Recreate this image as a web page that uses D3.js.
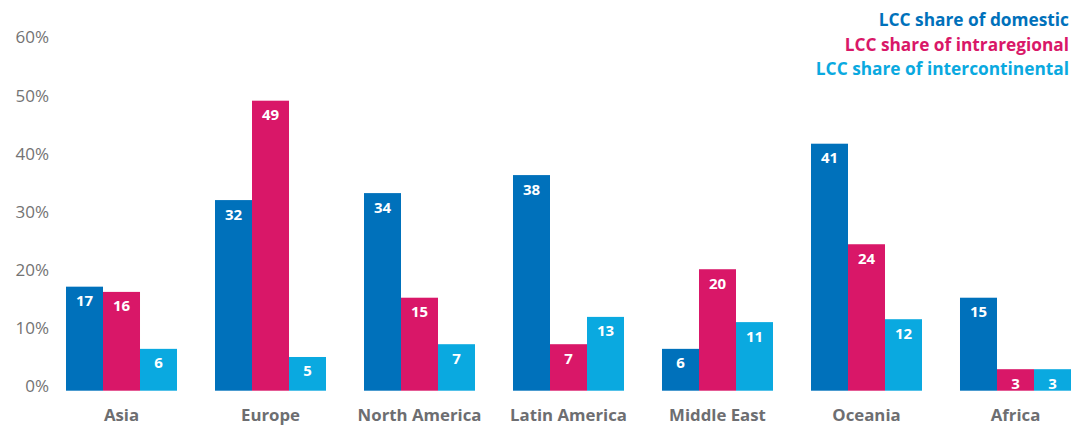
<!DOCTYPE html>
<html>
<head>
<meta charset="utf-8">
<script src="https://cdn.jsdelivr.net/npm/d3@7"></script>
<style>
	body { margin: 0; background: #fff; }
	svg { display: block; font-family: "Open Sans", sans-serif; }
	.tick-label { fill: #737373; font-size: 17px; }
	.cat-label { fill: #6d6e71; font-size: 16.8px; font-weight: bold; }
	.bar-label { fill: #fff; font-size: 15px; font-weight: bold; }
	.legend { font-size: 17.3px; font-weight: bold; }
</style>
</head>
<body>
<svg id="chart"></svg>
<script>
// regions on the x axis
var regions = ["Asia", "Europe", "North America", "Latin America", "Middle East", "Oceania", "Africa"];
var seriesNames = ["LCC share of domestic", "LCC share of intraregional", "LCC share of intercontinental"];
var seriesColors = ["#0071bb", "#d91768", "#0aa9e0"];

// bar heights (%)
var domestic = [17.9, 32.8, 34.0, 37.1, 7.2, 42.5, 16.0];
var intraregional = [17.0, 49.9, 16.0, 8.0, 20.9, 25.2, 3.7];
var intercontinental = [7.2, 5.8, 8.0, 12.7, 11.8, 12.3, 3.7];

// numbers printed on the bars
var domesticLabels = [17, 32, 34, 38, 6, 41, 15];
var intraregionalLabels = [16, 49, 15, 7, 20, 24, 3];
var intercontinentalLabels = [6, 5, 7, 13, 11, 12, 3];

var yTicks = [0, 10, 20, 30, 40, 50, 60];

var width = 1074, height = 425;
var svg = d3.select("#chart").attr("width", width).attr("height", height);

var values = [domestic, intraregional, intercontinental];
var labels = [domesticLabels, intraregionalLabels, intercontinentalLabels];
var data = [];
regions.forEach(function(r, i) {
	seriesNames.forEach(function(s, j) {
		data.push({ region: r, series: s, idx: j, value: values[j][i], label: labels[j][i] });
	});
});

var x = d3.scaleBand().domain(regions).range([66, 1071]).paddingInner(0.255).paddingOuter(0);
var xs = d3.scaleBand().domain(seriesNames).range([0, x.bandwidth()]);
var y = d3.scaleLinear().domain([0, 60]).range([390.7, 42]);

// y tick labels
svg.append("g").selectAll("text")
	.data(yTicks)
	.enter().append("text")
	.attr("class", "tick-label")
	.attr("x", 49)
	.attr("y", function(d) { return y(d) - 4.5; })
	.attr("dy", "0.35em")
	.attr("text-anchor", "end")
	.text(function(d) { return d + "%"; });

var bars = svg.append("g").selectAll("g")
	.data(data)
	.enter().append("g")
	.attr("transform", function(d) { return "translate(" + (x(d.region) + xs(d.series)) + ",0)"; });

bars.append("rect")
	.attr("x", 0)
	.attr("width", xs.bandwidth())
	.attr("y", function(d) { return y(d.value); })
	.attr("height", function(d) { return y(0) - y(d.value); })
	.attr("fill", function(d) { return seriesColors[d.idx]; });

bars.append("text")
	.attr("class", "bar-label")
	.attr("x", xs.bandwidth() / 2)
	.attr("y", function(d) { return y(d.value) + 19.5; })
	.attr("text-anchor", "middle")
	.text(function(d) { return d.label; });

// category labels
svg.append("g").selectAll("text")
	.data(regions)
	.enter().append("text")
	.attr("class", "cat-label")
	.attr("x", function(d) { return x(d) + x.bandwidth() / 2; })
	.attr("y", 421)
	.attr("text-anchor", "middle")
	.text(function(d) { return d; });

// legend
svg.append("g").selectAll("text")
	.data(seriesNames)
	.enter().append("text")
	.attr("class", "legend")
	.attr("x", 1069)
	.attr("y", function(d, i) { return 26 + i * 24.5; })
	.attr("text-anchor", "end")
	.attr("fill", function(d, i) { return seriesColors[i]; })
	.text(function(d) { return d; });
</script>
</body>
</html>
